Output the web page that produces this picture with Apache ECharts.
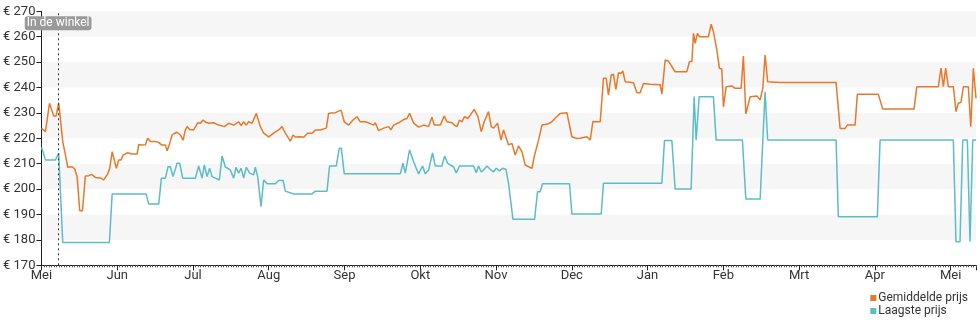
<!DOCTYPE html>
<html>
<head>
<meta charset="utf-8">
<script src="https://cdn.jsdelivr.net/npm/echarts@6/dist/echarts.min.js"></script>
<style>
html,body{margin:0;padding:0;background:#fff;}
#chart{width:980px;height:325px;}
</style>
</head>
<body>
<div id="chart"></div>
<script>
// Month labels (axis positions 0..12, months equally spaced)
const monthLabels = ['Mei','Jun','Jul','Aug','Sep','Okt','Nov','Dec','Jan','Feb','Mrt','Apr','Mei'];

// "Gemiddelde prijs" — position in months since start, price in €
const avgMonths = [0,0.053,0.106,0.128,0.162,0.194,0.228,0.251,0.281,0.317,0.347,0.405,0.439,0.471,0.505,0.541,0.580,0.624,0.660,0.712,0.735,0.778,0.822,0.875,0.901,0.933,0.954,0.989,1.020,1.051,1.078,1.131,1.197,1.263,1.284,1.319,1.372,1.402,1.438,1.504,1.548,1.583,1.636,1.658,1.693,1.724,1.759,1.790,1.834,1.869,1.900,1.922,1.956,2.009,2.032,2.062,2.098,2.133,2.164,2.207,2.273,2.339,2.361,2.414,2.471,2.537,2.603,2.635,2.669,2.701,2.735,2.780,2.836,2.889,2.933,2.999,3.065,3.131,3.175,3.219,3.285,3.321,3.351,3.417,3.460,3.513,3.571,3.615,3.681,3.760,3.790,3.826,3.879,3.901,3.954,3.997,4.054,4.112,4.165,4.208,4.274,4.331,4.384,4.406,4.450,4.516,4.582,4.613,4.648,4.714,4.780,4.825,4.859,4.912,4.978,5.044,5.110,5.154,5.185,5.264,5.317,5.352,5.418,5.449,5.484,5.518,5.550,5.584,5.624,5.660,5.712,5.761,5.805,5.844,5.901,5.937,5.967,6.020,6.065,6.099,6.165,6.210,6.253,6.297,6.342,6.385,6.429,6.474,6.504,6.561,6.606,6.671,6.737,6.790,6.847,6.935,6.956,7.001,7.067,7.111,7.199,7.243,7.278,7.375,7.418,7.454,7.484,7.520,7.550,7.582,7.616,7.648,7.674,7.704,7.814,7.859,7.902,7.946,8.034,8.166,8.189,8.232,8.276,8.364,8.518,8.553,8.585,8.606,8.628,8.658,8.685,8.803,8.839,8.869,8.914,8.948,8.980,9.001,9.037,9.112,9.156,9.235,9.265,9.297,9.354,9.442,9.486,9.521,9.551,9.585,9.749,10.488,10.541,10.607,10.637,10.739,10.769,11.046,11.104,11.517,11.553,11.838,11.873,11.904,11.935,11.970,12.036,12.071,12.102,12.137,12.168,12.234,12.266,12.300,12.335];
const avgPrices = [223.9,222.6,233.8,234.4,228.8,228.8,234.0,234.4,218.7,213.4,208.6,208.8,207.9,204.9,191.5,191.5,205.2,205.3,205.8,204.6,204.0,204.4,203.6,206.0,208.2,214.7,214.8,208.2,211.5,211.5,213.4,214.3,213.8,213.8,217.6,217.4,217.5,220.0,218.7,218.7,218.4,217.4,217.4,215.1,218.0,221.3,222.0,222.4,221.3,219.3,223.3,224.6,223.5,223.3,223.1,226.1,225.9,227.2,226.4,225.9,226.1,225.2,225.2,224.6,225.9,225.2,226.5,225.0,226.5,225.2,226.5,225.9,229.8,224.6,222.0,220.6,222.0,223.3,224.6,222.0,218.9,221.3,220.5,220.6,220.4,222.0,222.0,223.3,223.3,224.0,229.8,230.0,230.1,229.6,231.1,226.5,225.2,227.2,228.5,226.5,226.5,225.9,225.2,226.1,223.0,224.0,224.6,223.3,225.2,226.1,227.4,227.8,229.8,226.0,224.4,225.2,224.6,228.3,225.2,225.2,228.8,226.5,226.1,225.2,224.6,227.2,226.5,228.5,227.8,229.1,231.4,228.5,222.6,226.5,230.5,224.6,224.0,225.9,219.3,223.3,217.4,218.0,213.4,217.0,214.7,209.5,208.8,208.2,212.8,219.3,225.2,225.5,226.5,228.2,229.8,230.1,229.8,220.6,219.9,220.0,220.6,219.3,226.6,226.5,243.6,243.6,237.0,244.9,245.2,239.3,245.8,245.5,246.5,242.3,241.9,237.9,237.9,241.6,241.3,241.1,237.4,250.8,250.4,246.2,246.2,250.2,250.2,261.3,257.4,261.3,260.0,260.0,264.9,262.0,254.8,247.6,247.3,232.4,240.3,240.6,239.7,239.7,252.4,229.6,236.4,236.7,235.1,239.7,252.8,242.3,242.0,242.0,223.9,223.9,225.2,225.2,237.3,237.3,231.5,231.5,240.3,240.3,247.6,240.3,247.6,240.3,240.3,230.5,233.8,234.2,240.3,240.3,224.6,247.6,235.7];

// "Laagste prijs"
const lowMonths = [0,0.053,0.185,0.228,0.251,0.281,0.897,0.933,1.381,1.416,1.548,1.583,1.636,1.671,1.702,1.737,1.790,1.825,1.864,2.032,2.075,2.120,2.150,2.186,2.220,2.252,2.296,2.348,2.384,2.427,2.458,2.493,2.537,2.569,2.603,2.635,2.669,2.704,2.748,2.801,2.823,2.854,2.898,2.933,2.978,3.087,3.131,3.189,3.219,3.329,3.571,3.615,3.769,3.803,3.892,3.931,3.958,3.997,4.736,4.772,4.802,4.859,4.912,4.956,4.978,5.030,5.066,5.110,5.162,5.198,5.286,5.321,5.360,5.396,5.439,5.475,5.518,5.703,5.739,5.769,5.805,5.835,5.880,5.923,5.967,6.003,6.046,6.086,6.131,6.165,6.187,6.223,6.508,6.548,6.583,6.614,6.970,7.001,7.388,7.418,8.189,8.223,8.321,8.364,8.575,8.615,8.641,8.681,8.869,8.905,9.252,9.297,9.486,9.551,9.585,10.488,10.518,11.033,11.069,12.036,12.071,12.124,12.160,12.221,12.256,12.292,12.335];
const lowPrices = [216.5,211.5,211.5,214.1,214.1,179.0,179.0,198.1,198.1,194.1,194.1,204.3,204.3,208.8,208.8,204.9,210.2,210.2,204.3,204.3,209.1,204.3,209.5,204.9,208.2,204.9,204.3,203.6,213.0,208.7,208.2,207.5,204.3,208.6,206.3,208.2,204.3,208.6,206.3,205.6,208.6,204.9,193.1,203.6,202.1,202.1,203.4,203.4,199.2,198.1,198.1,199.2,199.2,209.1,209.1,216.1,216.1,206.0,206.0,210.2,206.3,215.4,210.8,207.5,206.0,209.1,206.0,207.5,214.3,209.1,209.1,213.0,210.2,209.5,208.8,206.4,209.1,209.1,206.4,209.1,206.8,207.5,209.1,207.8,206.8,208.2,207.2,208.2,207.8,202.3,202.1,188.1,188.1,199.0,199.0,202.1,202.1,190.2,190.2,202.3,202.3,219.1,219.1,200.0,200.0,236.4,219.3,236.4,236.4,219.3,219.3,196.1,196.1,238.3,219.3,219.3,189.1,189.1,219.3,219.3,179.3,179.3,219.3,219.3,179.3,219.3,219.3];

const storeMarker = 0.22; // "In de winkel" moment
const yTicks = {min:170, max:270, step:10};

const zip = (xs, ys) => xs.map((x, i) => [x, ys[i]]);

const chart = echarts.init(document.getElementById('chart'), null, {renderer:'canvas'});
const font = 'Roboto, "Noto Sans", sans-serif';
chart.setOption({
  animation:false,
  textStyle:{fontFamily:font},
  grid:{left:41, right:4, top:11.3, bottom:59.7, containLabel:false},
  legend:{
    orient:'vertical', right:12, bottom:8, padding:0,
    icon:'rect', itemWidth:6, itemHeight:6, itemGap:1,
    textStyle:{fontSize:12, color:'#333', fontFamily:font, padding:[0,0,0,-3]},
    data:['Gemiddelde prijs','Laagste prijs']
  },
  xAxis:{
    type:'value', min:0, max:12.335, interval:1,
    axisLine:{show:true, lineStyle:{color:'#222', width:1}},
    axisTick:{show:true, length:5, lineStyle:{color:'#222'}},
    minorTick:{show:true, splitNumber:30, length:2, lineStyle:{color:'#555'}},
    axisLabel:{color:'#333', fontSize:13, margin:4, showMaxLabel:false,
      formatter:v => monthLabels[Math.round(v)] || ''},
    splitLine:{show:false}
  },
  yAxis:{
    type:'value', min:yTicks.min, max:yTicks.max, interval:yTicks.step,
    axisLine:{show:true, lineStyle:{color:'#222', width:1}},
    axisTick:{show:true, length:5, lineStyle:{color:'#222'}},
    axisLabel:{color:'#333', fontSize:13, margin:6, formatter:v => '€ ' + v},
    splitLine:{show:false},
    splitArea:{show:true, areaStyle:{color:['#ffffff','#f6f6f6']}}
  },
  series:[
    {
      name:'Gemiddelde prijs', type:'line', data:zip(avgMonths, avgPrices),
      showSymbol:false, symbol:'none', color:'#e8792b',
      lineStyle:{width:1.5, color:'#e8792b'}, z:3,
      markLine:{
        silent:true, symbol:['none','none'],
        lineStyle:{type:[2,3], color:'#333', width:1},
        label:{show:true, position:'end', formatter:'In de winkel',
          color:'#fff', backgroundColor:'#9a9a9a', borderRadius:3,
          padding:[1,2,1,2], fontSize:12, offset:[0,24]},
        data:[{xAxis:storeMarker}]
      }
    },
    {
      name:'Laagste prijs', type:'line', data:zip(lowMonths, lowPrices),
      showSymbol:false, symbol:'none', color:'#5bbdc5',
      lineStyle:{width:1.5, color:'#5bbdc5'}, z:2
    }
  ]
});
</script>
</body>
</html>
